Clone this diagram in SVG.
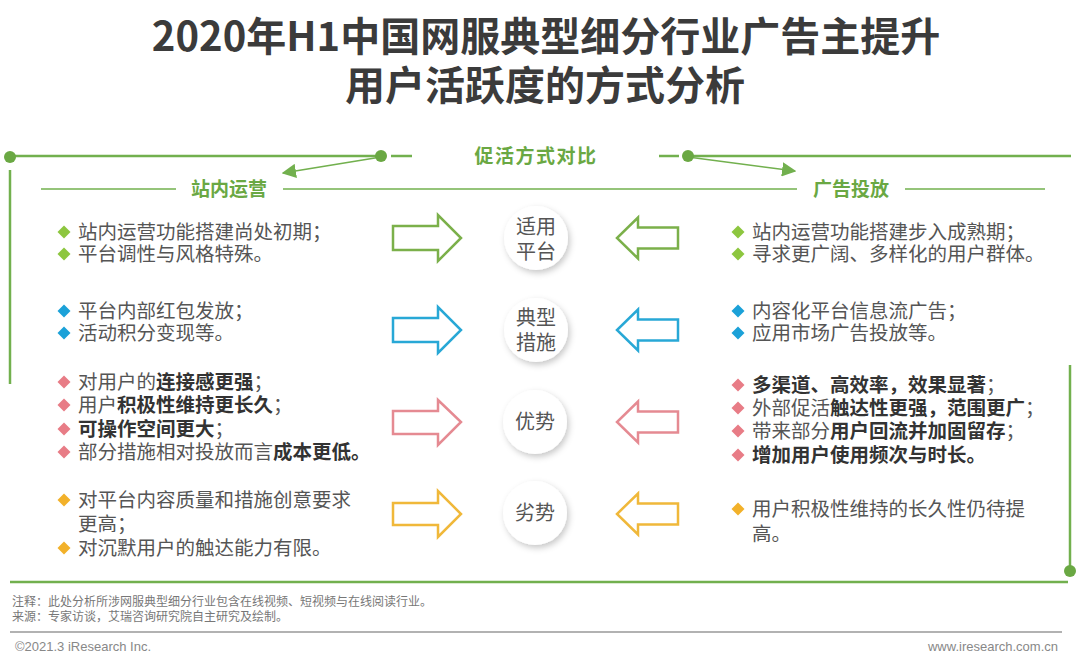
<svg xmlns="http://www.w3.org/2000/svg" width="1080" height="664" viewBox="0 0 1080 664">
<defs>
<style>
.ti{font-family:"Noto Sans CJK SC","Liberation Sans",sans-serif;font-size:40px;font-weight:700;fill:#3b3b3b;text-anchor:middle}
.hd{font-family:"Noto Sans CJK SC","Liberation Sans",sans-serif;font-size:19px;font-weight:700;fill:#6aa843;text-anchor:middle}
.t{font-family:"Noto Sans CJK SC","Liberation Sans",sans-serif;font-size:19.5px;fill:#555}
.b{font-weight:700;fill:#333}
.ct{font-family:"Noto Sans CJK SC","Liberation Sans",sans-serif;font-size:20px;fill:#555;text-anchor:middle}
.fr{stroke:#72b04e;stroke-width:2.5;fill:none}
.cn{stroke:#72b04e;stroke-width:1.6;fill:none}
.dot{fill:#6aa843}
.note{font-family:"Noto Sans CJK SC","Liberation Sans",sans-serif;font-size:12px;fill:#777}
.ft{font-family:"Liberation Sans","Noto Sans",sans-serif;font-size:13px;fill:#888}
.ag{stroke:#7bb04a;stroke-width:2.5;fill:#fff}
.ab{stroke:#28a8d6;stroke-width:2.5;fill:#fff}
.ap{stroke:#e58a92;stroke-width:2.5;fill:#fff}
.ay{stroke:#f0b83a;stroke-width:2.5;fill:#fff}
.dg{fill:#8dc63f}.db{fill:#1ba1d8}.dp{fill:#e87c86}.dy{fill:#f2b12a}
.circ{fill:#fff;filter:url(#sh)}
</style>
<filter id="sh" x="-40%" y="-40%" width="180%" height="180%">
<feDropShadow dx="2" dy="3" stdDeviation="3" flood-color="#000" flood-opacity="0.22"/>
</filter>
<marker id="ah" viewBox="0 0 10 10" refX="9" refY="5" markerWidth="7" markerHeight="7" orient="auto" markerUnits="userSpaceOnUse">
<path d="M0,0 L10,5 L0,10 Z" fill="#72b04e"/>
</marker>
<marker id="ah2" viewBox="0 0 10 10" refX="9" refY="5" markerWidth="9" markerHeight="9" orient="auto">
<path d="M0,0 L10,5 L0,10 Z" fill="#72b04e"/>
</marker>
</defs>
<rect width="1080" height="664" fill="#fff"/>

<g id="title">
<text class="ti" x="546" y="51">2020年H1中国网服典型细分行业广告主提升</text>
<text class="ti" x="545" y="100">用户活跃度的方式分析</text>
</g>

<g id="connectors">
<line class="fr" x1="10" y1="156" x2="381" y2="156"/>
<line class="fr" x1="391" y1="156" x2="412" y2="156"/>
<line class="fr" x1="659" y1="156" x2="679" y2="156"/>
<line class="fr" x1="688" y1="156" x2="1071" y2="156"/>
<line class="fr" x1="10" y1="170" x2="10" y2="384"/>
<line class="fr" x1="1070" y1="365" x2="1070" y2="571"/>
<line class="fr" x1="10" y1="582" x2="1068" y2="582"/>
<line class="cn" x1="381" y1="157" x2="283" y2="173" marker-end="url(#ah2)"/>
<line class="cn" x1="688" y1="157" x2="795" y2="171" marker-end="url(#ah2)"/>
<line class="cn" x1="41" y1="189" x2="176" y2="189" stroke-width="1.5"/>
<line class="cn" x1="283" y1="189" x2="797" y2="189" stroke-width="1.5"/>
<line class="cn" x1="905" y1="189" x2="1045" y2="189" stroke-width="1.5"/>
<circle class="dot" cx="10" cy="157" r="6"/>
<circle class="dot" cx="381" cy="156" r="6"/>
<circle class="dot" cx="688" cy="156" r="6"/>
<circle class="dot" cx="1070" cy="571" r="6"/>
</g>

<g id="header-compare"><text class="hd" x="536" y="163" font-size="19.5" letter-spacing="1.5">促活方式对比</text></g>
<g id="header-left"><text class="hd" x="229" y="196">站内运营</text></g>
<g id="header-right"><text class="hd" x="851" y="196">广告投放</text></g>

<g id="arrows">
<path class="ag" d="M393,226 H438 V215 L461,238 L438,261 V250 H393 Z"/>
<path class="ag" d="M678,227.5 H638 V217.5 L617,238 L638,258.5 V248.5 H678 Z"/>
<path class="ab" d="M393,318 H438 V307 L461,330 L438,353 V342 H393 Z"/>
<path class="ab" d="M678,319.5 H638 V309.5 L617,330 L638,350.5 V340.5 H678 Z"/>
<path class="ap" d="M393,411 H438 V400 L461,422 L438,445 V434 H393 Z"/>
<path class="ap" d="M678,411.5 H638 V401.5 L617,422 L638,442.5 V432.5 H678 Z"/>
<path class="ay" d="M393,503 H438 V491 L461,514 L438,537 V525 H393 Z"/>
<path class="ay" d="M678,503.5 H638 V493.5 L617,514 L638,534.5 V524.5 H678 Z"/>
</g>

<g id="node-platform">
<circle class="circ" cx="536" cy="238" r="32"/>
<text class="ct" x="536" y="234">适用</text>
<text class="ct" x="536" y="259">平台</text>
</g>
<g id="node-measures">
<circle class="circ" cx="536" cy="330" r="32"/>
<text class="ct" x="536" y="325">典型</text>
<text class="ct" x="536" y="350">措施</text>
</g>
<g id="node-advantage">
<circle class="circ" cx="535" cy="422" r="32"/>
<text class="ct" x="535" y="429">优势</text>
</g>
<g id="node-disadvantage">
<circle class="circ" cx="535" cy="513" r="32"/>
<text class="ct" x="535" y="520">劣势</text>
</g>

<g id="left-platform">
<polygon class="dg" points="64,225.5 70.5,232 64,238.5 57.5,232"/>
<polygon class="dg" points="64,247.5 70.5,254 64,260.5 57.5,254"/>
<text class="t" x="78" y="239">站内运营功能搭建尚处初期；</text>
<text class="t" x="78" y="261">平台调性与风格特殊。</text>
</g>
<g id="left-measures">
<polygon class="db" points="64,304.5 70.5,311 64,317.5 57.5,311"/>
<polygon class="db" points="64,326.5 70.5,333 64,339.5 57.5,333"/>
<text class="t" x="78" y="318">平台内部红包发放；</text>
<text class="t" x="78" y="340">活动积分变现等。</text>
</g>
<g id="left-advantage">
<polygon class="dp" points="64,375.5 70.5,382 64,388.5 57.5,382"/>
<polygon class="dp" points="64,398.5 70.5,405 64,411.5 57.5,405"/>
<polygon class="dp" points="64,422.5 70.5,429 64,435.5 57.5,429"/>
<polygon class="dp" points="64,445.5 70.5,452 64,458.5 57.5,452"/>
<text class="t" x="78" y="389">对用户的<tspan class="b">连接感更强</tspan>；</text>
<text class="t" x="78" y="412">用户<tspan class="b">积极性维持更长久</tspan>；</text>
<text class="t" x="78" y="436"><tspan class="b">可操作空间更大</tspan>；</text>
<text class="t" x="78" y="459">部分措施相对投放而言<tspan class="b">成本更低。</tspan></text>
</g>
<g id="left-disadvantage">
<polygon class="dy" points="64,493.5 70.5,500 64,506.5 57.5,500"/>
<polygon class="dy" points="64,541.5 70.5,548 64,554.5 57.5,548"/>
<text class="t" x="78" y="507">对平台内容质量和措施创意要求</text>
<text class="t" x="78" y="531">更高；</text>
<text class="t" x="78" y="555">对沉默用户的触达能力有限。</text>
</g>

<g id="right-platform">
<polygon class="dg" points="738,225.5 744.5,232 738,238.5 731.5,232"/>
<polygon class="dg" points="738,247.5 744.5,254 738,260.5 731.5,254"/>
<text class="t" x="752" y="239">站内运营功能搭建步入成熟期；</text>
<text class="t" x="752" y="261">寻求更广阔、多样化的用户群体。</text>
</g>
<g id="right-measures">
<polygon class="db" points="738,304.5 744.5,311 738,317.5 731.5,311"/>
<polygon class="db" points="738,326.5 744.5,333 738,339.5 731.5,333"/>
<text class="t" x="752" y="318">内容化平台信息流广告；</text>
<text class="t" x="752" y="340">应用市场广告投放等。</text>
</g>
<g id="right-advantage">
<polygon class="dp" points="738,378.5 744.5,385 738,391.5 731.5,385"/>
<polygon class="dp" points="738,401.5 744.5,408 738,414.5 731.5,408"/>
<polygon class="dp" points="738,424.5 744.5,431 738,437.5 731.5,431"/>
<polygon class="dp" points="738,448.5 744.5,455 738,461.5 731.5,455"/>
<text class="t" x="752" y="392"><tspan class="b">多渠道、高效率，效果显著</tspan>；</text>
<text class="t" x="752" y="415">外部促活<tspan class="b">触达性更强，范围更广</tspan>；</text>
<text class="t" x="752" y="438">带来部分<tspan class="b">用户回流并加固留存</tspan>；</text>
<text class="t" x="752" y="462"><tspan class="b">增加用户使用频次与时长。</tspan></text>
</g>
<g id="right-disadvantage">
<polygon class="dy" points="738,502.5 744.5,509 738,515.5 731.5,509"/>
<text class="t" x="752" y="516">用户积极性维持的长久性仍待提</text>
<text class="t" x="752" y="541">高。</text>
</g>

<g id="footer">
<text class="note" x="12" y="606">注释：此处分析所涉网服典型细分行业包含在线视频、短视频与在线阅读行业。</text>
<text class="note" x="12" y="621">来源：专家访谈，艾瑞咨询研究院自主研究及绘制。</text>
<line x1="10" y1="632" x2="1062" y2="632" stroke="#999" stroke-width="1.5"/>
<text class="ft" x="15" y="651">©2021.3 iResearch Inc.</text>
<text class="ft" x="1058" y="651" text-anchor="end">www.iresearch.com.cn</text>
</g>
</svg>
